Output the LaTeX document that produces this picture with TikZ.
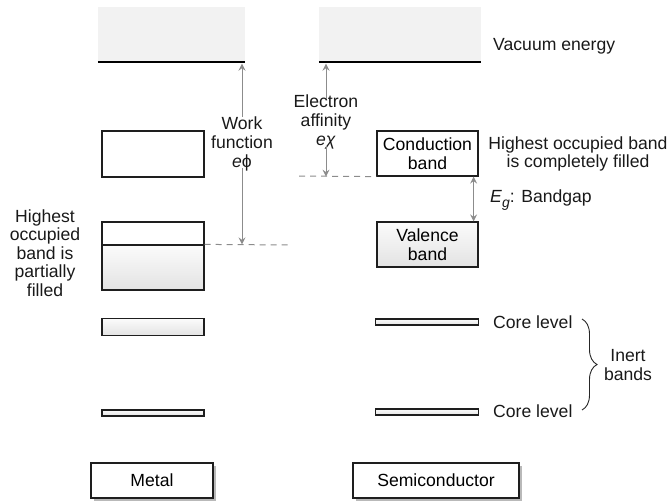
\documentclass[tikz,border=0pt]{standalone}
\usepackage{fontspec}
\setmainfont{Liberation Sans}
\usetikzlibrary{arrows.meta,decorations.pathreplacing,shadows}
\definecolor{vac}{HTML}{F2F2F2}
\definecolor{arr}{HTML}{8C8C8C}
\definecolor{edge}{HTML}{1E1E1E}
\tikzset{
 band/.style={draw=edge, line width=1.2pt, inner sep=0pt, fill=white, align=center},
 shaded band/.style={band, top color=gray!3, bottom color=gray!22},
 vacbox/.style={fill=vac, inner sep=0pt, minimum height=55pt},
 lbl/.style={inner sep=0pt, align=center, text=black!90},
 garrow/.style={draw=arr, line width=0.9pt, -{Stealth[length=7pt,width=7pt,inset=2.5pt]}},
 gdarrow/.style={draw=arr, line width=0.9pt, {Stealth[length=7pt,width=7pt,inset=2.5pt]}-{Stealth[length=7pt,width=7pt,inset=2.5pt]}},
 gdash/.style={draw=arr, line width=1pt, dash pattern=on 6pt off 5pt},
 captionbox/.style={band, drop shadow={shadow xshift=2.5pt, shadow yshift=-2.5pt, fill=gray!55, opacity=1}}
}
\begin{document}
\begin{tikzpicture}[x=1pt,y=-1pt, font=\fontsize{17.6}{18.6}\selectfont]
\useasboundingbox (0,0) rectangle (671,500);
% vacuum
\node[vacbox, minimum width=147pt] (vacm) at (171.5,34.5) {};
\node[vacbox, minimum width=162pt] (vacs) at (400,34.5) {};
\draw[line width=2pt] (vacm.south west) -- (vacm.south east);
\draw[line width=2pt] (vacs.south west) -- (vacs.south east);
\node[lbl, anchor=west] (vact) at (493,46) {Vacuum energy};
% metal bands
\node[band, minimum width=102pt, minimum height=46pt] (mtop) at (153,154) {};
\node[shaded band, minimum width=102pt, minimum height=45pt] (mlowb) at (153,267.5) {};
\node[band, minimum width=102pt, minimum height=23pt] (mlowt) at (153,233.5) {};
\node[shaded band, minimum width=102pt, minimum height=17pt] (mc1) at (153,327) {};
\node[shaded band, minimum width=102pt, minimum height=6pt] (mc2) at (153,413) {};
% semiconductor bands
\node[band, minimum width=101pt, minimum height=45pt] (cb) at (427.5,153.5) {Conduction\\band};
\node[shaded band, minimum width=101pt, minimum height=45pt] (vb) at (427.5,244.5) {Valence\\band};
\node[shaded band, minimum width=103pt, minimum height=6pt] (sc1) at (427,322) {};
\node[shaded band, minimum width=103pt, minimum height=6pt] (sc2) at (427,412) {};
% labels
\node[lbl] (wf) at (242,144) {Work\\function\\\textit{e}ϕ};
\node[lbl] (ea) at (326,122) {Electron\\affinity\\\textit{eχ}};
\node[lbl] (hocf) at (578,154) {Highest occupied band\\is completely filled};
\node[lbl, anchor=west] (eg) at (490,200) {\textit{E}\raisebox{-0.3em}{\fontsize{14}{14}\selectfont\textit{g}}: Bandgap};
\node[lbl] (hopf) at (45,253) {Highest\\occupied\\band is\\partially\\filled};
\node[lbl, anchor=west] (cl1) at (493,322) {Core level};
\node[lbl, anchor=west] (cl2) at (493,411) {Core level};
\node[lbl] (inert) at (628,365) {Inert\\bands};
% connectors
\coordinate (wfR) at (290,245);
\coordinate (eaL) at (299,176);
\draw[gdash] (mlowb.north east) -- (wfR);
\draw[gdash] (eaL) -- (cb.south west);
\draw[garrow, shorten >=1.5pt] (wf.north) -- (wf.north |- vacm.south);
\draw[garrow] ([yshift=3pt]wf.south) -- (wf.south |- mlowb.north);
\draw[garrow, shorten >=1.5pt] ([yshift=-4pt]ea.north) -- (ea.north |- vacs.south);
\draw[garrow] ([yshift=3pt]ea.south) -- (ea.south |- cb.south);
\draw[gdarrow] ([xshift=-5pt]cb.south east) -- ([xshift=-5pt]vb.north east);
\coordinate (brT) at (582,319);
\coordinate (brB) at (582,410);
\draw[black!85, line width=0.9pt, decorate, decoration={brace, amplitude=15pt}] (brT) -- (brB);
% captions
\node[captionbox, minimum width=122pt, minimum height=35pt] (metal) at (152,480.5) {Metal};
\node[captionbox, minimum width=166pt, minimum height=35pt] (semi) at (436,480.5) {Semiconductor};
\end{tikzpicture}
\end{document}
